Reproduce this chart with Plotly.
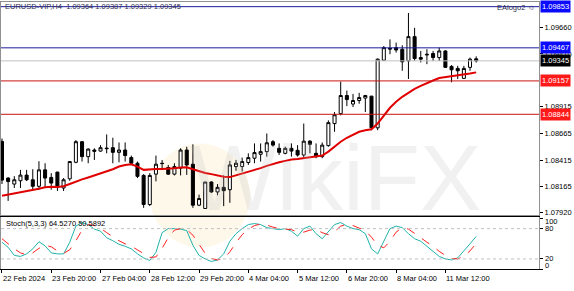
import plotly.graph_objects as go

# ---------------- data ----------------
bar_index = list(range(78))
open_ = [1.08590,1.08246,1.08190,1.08221,1.08274,1.08230,1.08169,1.08323,1.08252,1.08302,
         1.08153,1.08239,1.08394,1.08587,1.08447,1.08509,1.08499,1.08527,1.08531,1.08487,
         1.08509,1.08438,1.08385,1.08271,1.07998,1.08283,1.08385,1.08345,1.08283,1.08339,
         1.08509,1.08376,1.07992,1.07961,1.08209,1.08116,1.08159,1.08137,1.08354,1.08354,
         1.08392,1.08432,1.08469,1.08494,1.08587,1.08525,1.08478,1.08525,1.08506,1.08462,
         1.08592,1.08478,1.08447,1.08550,1.08757,1.08850,1.09020,1.08940,1.08973,1.08996,
         1.09014,1.08717,1.09351,1.09463,1.09469,1.09454,1.09345,1.09572,1.09376,1.09407,
         1.09414,1.09376,1.09438,1.09293,1.09274,1.09181,1.09284,1.09364]
high_ = [1.08617,1.08255,1.08264,1.08323,1.08323,1.08329,1.08404,1.08385,1.08292,1.08305,
         1.08246,1.08404,1.08602,1.08592,1.08525,1.08525,1.08555,1.08655,1.08624,1.08580,
         1.08580,1.08457,1.08401,1.08283,1.08292,1.08457,1.08416,1.08369,1.08385,1.08525,
         1.08540,1.08562,1.08091,1.08209,1.08215,1.08190,1.08271,1.08407,1.08416,1.08438,
         1.08478,1.08571,1.08571,1.08664,1.08602,1.08571,1.08540,1.08571,1.08555,1.08757,
         1.08602,1.08571,1.08580,1.08787,1.08865,1.09150,1.09066,1.09035,1.09045,1.09026,
         1.09017,1.09367,1.09484,1.09546,1.09516,1.09491,1.09794,1.09655,1.09438,1.09454,
         1.09438,1.09469,1.09444,1.09305,1.09298,1.09298,1.09376,1.09387]
low_ = [1.08190,1.08032,1.08153,1.08153,1.08218,1.08137,1.08137,1.08153,1.08137,1.08125,
        1.08125,1.08221,1.08385,1.08401,1.08385,1.08416,1.08494,1.08478,1.08385,1.08394,
        1.08401,1.08369,1.08246,1.07967,1.07983,1.08215,1.08323,1.08276,1.08271,1.08271,
        1.08276,1.07967,1.07983,1.07958,1.08106,1.08085,1.07983,1.08014,1.08314,1.08308,
        1.08369,1.08385,1.08401,1.08447,1.08540,1.08462,1.08469,1.08447,1.08447,1.08432,
        1.08478,1.08432,1.08432,1.08540,1.08680,1.08834,1.08921,1.08912,1.08943,1.08865,
        1.08695,1.08695,1.09345,1.09407,1.09423,1.09252,1.09175,1.09345,1.09330,1.09314,
        1.09345,1.09345,1.09280,1.09144,1.09175,1.09175,1.09252,1.09329]
close_ = [1.08227,1.08213,1.08230,1.08274,1.08230,1.08169,1.08323,1.08246,1.08199,1.08159,
          1.08230,1.08401,1.08587,1.08447,1.08518,1.08497,1.08531,1.08522,1.08487,1.08509,
          1.08457,1.08385,1.08262,1.07998,1.08271,1.08376,1.08382,1.08283,1.08354,1.08509,
          1.08369,1.07992,1.08054,1.08209,1.08116,1.08159,1.08128,1.08369,1.08385,1.08401,
          1.08438,1.08485,1.08494,1.08577,1.08555,1.08487,1.08525,1.08499,1.08462,1.08592,
          1.08562,1.08447,1.08555,1.08766,1.08840,1.09020,1.08982,1.08973,1.09001,1.09020,
          1.08717,1.09361,1.09469,1.09456,1.09447,1.09336,1.09572,1.09367,1.09361,1.09402,
          1.09376,1.09438,1.09284,1.09261,1.09252,1.09274,1.09361,1.09345]
ma_values = [1.08081,1.08091,1.08100,1.08113,1.08122,1.08132,1.08146,1.08159,1.08165,1.08162,
             1.08169,1.08190,1.08215,1.08234,1.08252,1.08271,1.08290,1.08308,1.08329,1.08354,
             1.08369,1.08376,1.08354,1.08323,1.08329,1.08332,1.08332,1.08332,1.08339,1.08345,
             1.08348,1.08329,1.08308,1.08293,1.08283,1.08271,1.08258,1.08255,1.08271,1.08286,
             1.08302,1.08320,1.08339,1.08360,1.08379,1.08394,1.08407,1.08420,1.08425,1.08432,
             1.08438,1.08447,1.08457,1.08494,1.08540,1.08587,1.08624,1.08655,1.08680,1.08695,
             1.08704,1.08757,1.08831,1.08905,1.08961,1.09008,1.09045,1.09082,1.09110,1.09138,
             1.09161,1.09184,1.09191,1.09198,1.09206,1.09217,1.09226,1.09237]
stoch_k = [53,43,27,25,30,40,54,46,32,30,
           30,53,85,92,88,79,75,62,56,49,
           45,40,30,22,17,33,72,80,80,79,
           76,47,27,20,15,18,30,55,70,80,
           88,90,88,82,80,78,80,75,65,80,
           85,70,60,75,88,92,85,80,78,70,
           40,30,55,80,85,82,70,60,55,45,
           35,25,20,18,22,35,50,64.527]
stoch_d = [60,50,40,32,28,32,41,47,44,36,
           31,38,56,77,88,86,81,72,64,56,
           50,45,38,31,23,24,41,62,77,80,
           78,67,50,31,21,18,21,34,52,68,
           79,86,89,87,83,80,79,78,73,73,
           77,78,72,68,74,85,88,86,81,76,
           63,47,42,55,73,82,79,71,62,53,
           45,35,27,21,20,25,36,50.589]

time_tick_pos = [0, 8, 16, 24, 32, 40, 48, 56, 64, 72]
time_tick_labels = ["22 Feb 2024", "23 Feb 20:00", "27 Feb 04:00", "28 Feb 12:00",
                    "29 Feb 20:00", "4 Mar 04:00", "5 Mar 12:00", "6 Mar 20:00",
                    "8 Mar 04:00", "11 Mar 12:00"]
price_ticks = [1.09660, 1.09410, 1.08915, 1.08665, 1.08415, 1.08165, 1.07920]
price_tick_labels = ["1.09660", "1.09410", "1.08915", "1.08665", "1.08415", "1.08165", "1.07920"]
level_prices = [1.09853, 1.09467, 1.09157, 1.08844]
level_colors = ["#1c1c9c", "#1c1c9c", "#c81414", "#c81414"]
level_box_colors = ["#0a0aff", "#0a0aff", "#ff1a1a", "#ff1a1a"]
bid_price = 1.09345
stoch_levels = [80, 20]
stoch_ticks = [100, 80, 20, 0]
stoch_tick_labels = ["100", "80", "20", "0"]

# ---------------- layout helpers ----------------
W, H = 574, 291
def px(xp):
    return xp / W
def py(yp):
    return 1 - yp / H

X_L, X_R = 1, 539
fig = go.Figure()

fig.add_trace(go.Candlestick(
    x=bar_index, open=open_, high=high_, low=low_, close=close_,
    xaxis="x2", yaxis="y",
    increasing=dict(line=dict(color="black", width=1), fillcolor="white"),
    decreasing=dict(line=dict(color="black", width=1), fillcolor="black"),
    whiskerwidth=0, hoverinfo="skip", showlegend=False))

fig.add_trace(go.Scatter(x=bar_index, y=ma_values, mode="lines", xaxis="x2", yaxis="y",
                         line=dict(color="#e00000", width=2), hoverinfo="skip", showlegend=False))

fig.add_trace(go.Scatter(x=bar_index, y=stoch_k, mode="lines", xaxis="x", yaxis="y2",
                         line=dict(color="#20b2aa", width=1), hoverinfo="skip", showlegend=False))
fig.add_trace(go.Scatter(x=bar_index, y=stoch_d, mode="lines", xaxis="x", yaxis="y2",
                         line=dict(color="#ff2020", width=1, dash="dash"), hoverinfo="skip", showlegend=False))

shapes = []
# watermark logo
shapes.append(dict(type="circle", xref="paper", yref="paper", layer="below",
                   x0=px(150), x1=px(250), y0=py(250), y1=py(145),
                   fillcolor="rgba(250,226,170,0.25)", line=dict(width=0)))
for p, c in zip(level_prices, level_colors):
    shapes.append(dict(type="line", xref="paper", yref="y", x0=px(X_L), x1=px(X_R), y0=p, y1=p,
                       line=dict(color=c, width=1)))
shapes.append(dict(type="line", xref="paper", yref="y", x0=px(X_L), x1=px(X_R), y0=bid_price, y1=bid_price,
                   line=dict(color="#c0c0c0", width=1)))
for lv in stoch_levels:
    shapes.append(dict(type="line", xref="paper", yref="y2", x0=px(X_L), x1=px(X_R), y0=lv, y1=lv,
                       line=dict(color="#c0c0c0", width=1, dash="dot")))

annotations = []
annotations.append(dict(text="WikiFX", xref="paper", yref="paper", x=px(335), y=py(180),
                        showarrow=False, font=dict(family="Liberation Sans", size=92, color="rgba(185,185,185,0.2)")))
for pos, lab in zip(time_tick_pos, time_tick_labels):
    annotations.append(dict(text=lab, xref="x", yref="paper", x=pos, y=py(281), xanchor="left",
                            yanchor="middle", xshift=-1, showarrow=False,
                            font=dict(family="Liberation Sans", size=7.5, color="black")))
for p, c in zip(level_prices + [bid_price], level_box_colors + ["black"]):
    annotations.append(dict(text=f"{p:.5f}", xref="paper", yref="y", x=px(540), y=p, xanchor="left",
                            yanchor="middle", showarrow=False, bgcolor=c, borderpad=1,
                            font=dict(family="Liberation Sans", size=7.5, color="white")))
# stochastic scale labels (kept inside the panel like the terminal does)
stoch_label_shift = [-3, 0, 0, 4]
for v, lab, sh in zip(stoch_ticks, stoch_tick_labels, stoch_label_shift):
    annotations.append(dict(text=lab, xref="paper", yref="y2", x=px(543), y=v, xanchor="left",
                            yanchor="middle", yshift=sh, showarrow=False,
                            font=dict(family="Liberation Sans", size=7.5, color="black")))
annotations.append(dict(text="EURUSD-VIP,H4  1.09364 1.09387 1.09329 1.09345", xref="paper", yref="paper",
                        x=px(3), y=py(7), xanchor="left", yanchor="middle", showarrow=False,
                        font=dict(family="Liberation Sans", size=7.5, color="#303050")))
annotations.append(dict(text="EAlogo2 ☺", xref="paper", yref="paper",
                        x=px(537), y=py(8), xanchor="right", yanchor="middle", showarrow=False,
                        font=dict(family="Liberation Sans", size=7.5, color="#303050")))
annotations.append(dict(text="Stoch(5,3,3) 64.5270 50.5892", xref="paper", yref="paper",
                        x=px(4), y=py(226), xanchor="left", yanchor="middle", showarrow=False,
                        font=dict(family="Liberation Sans", size=7.5, color="black")))

x_range = [-0.16, 87.2]
fig.update_layout(
    width=W, height=H, margin=dict(l=0, r=0, t=0, b=0),
    paper_bgcolor="white", plot_bgcolor="white", showlegend=False,
    shapes=shapes, annotations=annotations,
    xaxis=dict(domain=[px(X_L), px(X_R)], anchor="y2", range=x_range, tickvals=time_tick_pos,
               ticktext=[""] * len(time_tick_pos), ticks="outside", ticklen=3, tickcolor="black",
               showgrid=False, zeroline=False, showline=True, linecolor="black", mirror=True,
               rangeslider=dict(visible=False)),
    xaxis2=dict(domain=[px(X_L), px(X_R)], anchor="y", range=x_range, matches="x",
                showticklabels=False, ticks="", showgrid=False, zeroline=False,
                showline=True, linecolor="#909090", mirror=True, rangeslider=dict(visible=False)),
    yaxis=dict(domain=[py(217), py(2)], anchor="x2", side="right", range=[1.07902, 1.09897],
               tickvals=price_ticks, ticktext=price_tick_labels, ticks="outside", ticklen=3,
               tickcolor="black", tickfont=dict(family="Liberation Sans", size=7.5, color="black"),
               showgrid=False, zeroline=False, showline=True, linecolor="#909090", mirror=True),
    yaxis2=dict(domain=[py(272), py(219)], anchor="x", side="right", range=[-0.3, 103.5],
                tickvals=stoch_ticks, ticktext=[""] * len(stoch_ticks), ticks="outside", ticklen=3,
                tickcolor="black", showgrid=False, zeroline=False, showline=True,
                linecolor="#909090", mirror=True),
)

fig.write_html("out.html")
